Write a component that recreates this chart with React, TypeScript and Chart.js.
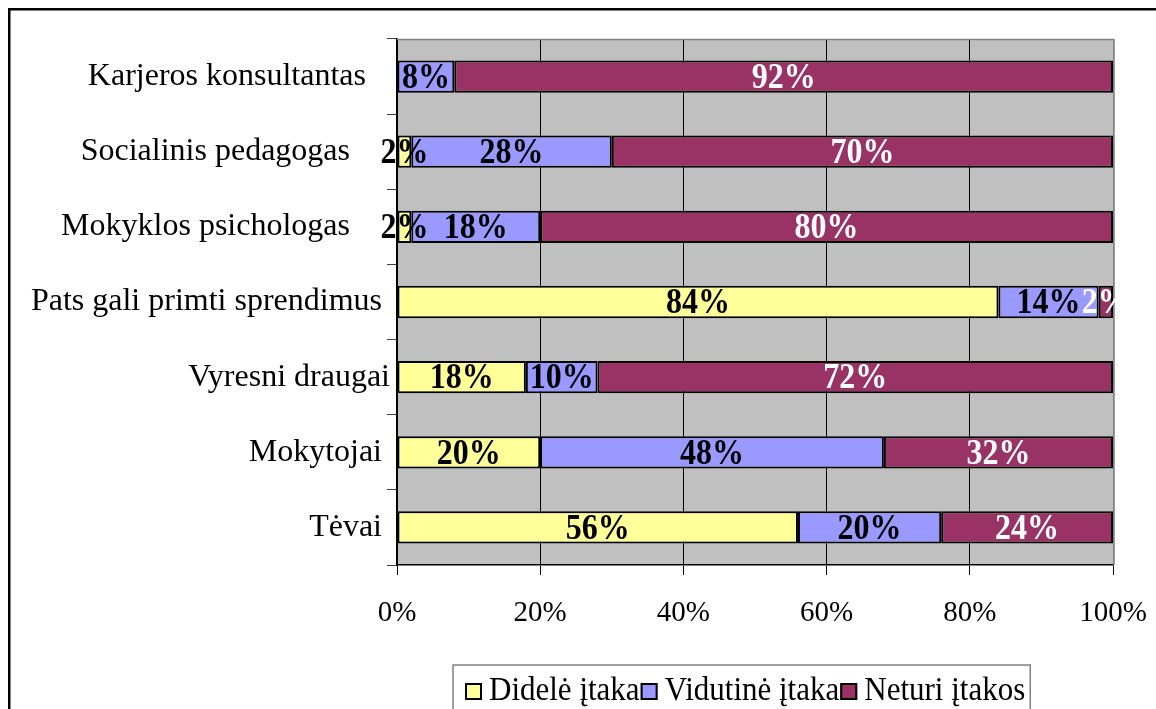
import React, { useEffect, useRef } from "react";
import { Chart, registerables } from "chart.js";

Chart.register(...registerables);

// Category labels (trailing spaces reproduce the original label alignment)
const categories = [
  "Karjeros konsultantas   ",
  "Socialinis pedagogas     ",
  "Mokyklos psichologas     ",
  "Pats gali primti sprendimus ",
  "Vyresni draugai",
  "Mokytojai ",
  "Tėvai ",
];
const seriesNames = ["Didelė įtaka", "Vidutinė įtaka", "Neturi įtakos"];
const didele = [0, 2, 2, 84, 18, 20, 56];
const vidutine = [8, 28, 18, 14, 10, 48, 20];
const neturi = [92, 70, 80, 2, 72, 32, 24];
const seriesColors = ["#FFFF99", "#9999FF", "#993366"];
const labelColors = ["#000000", "#000000", "#FFFFFF"];
const xTickStep = 20;

const SERIF = "'Liberation Serif', 'Times New Roman', Times, serif";

const framePlugin = {
  id: "frameAndBackground",
  beforeDraw(chart: any) {
    const { ctx, chartArea, width, height } = chart;
    ctx.save();
    ctx.fillStyle = "#FFFFFF";
    ctx.fillRect(0, 0, width, height);
    ctx.fillStyle = "#000000";
    ctx.fillRect(8, 8, width - 8, 2.5);
    ctx.fillRect(8, 8, 2.5, height - 8);
    ctx.fillStyle = "#C0C0C0";
    ctx.fillRect(chartArea.left, chartArea.top, chartArea.right - chartArea.left, chartArea.bottom - chartArea.top);
    ctx.restore();
  },
  beforeDatasetsDraw(chart: any) {
    const { ctx, chartArea } = chart;
    ctx.save();
    ctx.strokeStyle = "#808080";
    ctx.lineWidth = 1.5;
    ctx.beginPath();
    ctx.moveTo(chartArea.left, chartArea.top + 0.5);
    ctx.lineTo(chartArea.right + 1, chartArea.top + 0.5);
    ctx.moveTo(chartArea.right + 1, chartArea.top);
    ctx.lineTo(chartArea.right + 1, chartArea.bottom);
    ctx.stroke();
    ctx.restore();
  },
};

const dataLabelPlugin = {
  id: "dataLabels",
  afterDatasetsDraw(chart: any) {
    const { ctx } = chart;
    ctx.save();
    ctx.font = `bold 32px ${SERIF}`;
    ctx.textAlign = "center";
    ctx.textBaseline = "middle";
    chart.data.datasets.forEach((ds: any, di: number) => {
      const meta = chart.getDatasetMeta(di);
      meta.data.forEach((el: any, i: number) => {
        const v = ds.data[i];
        if (!v) return;
        const p = el.getProps(["x", "y", "base"], true);
        const cx = (p.x + p.base) / 2;
        const cy = p.y + 2;
        ctx.save();
        ctx.translate(cx, cy);
        ctx.scale(1, 1.12);
        ctx.fillStyle = labelColors[di];
        ctx.fillText(v + "%", 0, 0);
        ctx.restore();
      });
    });
    ctx.restore();
  },
};

const legendPlugin = {
  id: "boxLegend",
  afterDraw(chart: any) {
    const { ctx } = chart;
    ctx.save();
    ctx.font = `31px ${SERIF}`;
    ctx.textBaseline = "alphabetic";
    ctx.textAlign = "left";
    const boxLeft = 453;
    const boxTop = 665;
    let x = 465;
    const sq = 17;
    const sqTop = 683;
    chart.data.datasets.forEach((ds: any) => {
      ctx.fillStyle = ds.backgroundColor;
      ctx.fillRect(x, sqTop, sq, sq);
      ctx.strokeStyle = "#000000";
      ctx.lineWidth = 2;
      ctx.strokeRect(x + 1, sqTop + 1, sq - 2, sq - 2);
      x += sq + 7;
      ctx.fillStyle = "#000000";
      ctx.save();
      ctx.translate(x, 700);
      ctx.scale(1, 1.12);
      ctx.fillText(ds.label, 0, 0);
      ctx.restore();
      x += ctx.measureText(ds.label).width + 1;
    });
    ctx.strokeStyle = "#808080";
    ctx.lineWidth = 1.5;
    ctx.strokeRect(boxLeft, boxTop, x + 4 - boxLeft, 80);
    ctx.restore();
  },
};

export default function App() {
  const canvasRef = useRef<HTMLCanvasElement | null>(null);

  useEffect(() => {
    if (!canvasRef.current) return;
    const chart = new Chart(canvasRef.current, {
      type: "bar",
      data: {
        labels: categories,
        datasets: [didele, vidutine, neturi].map((values, i) => ({
          label: seriesNames[i],
          data: values,
          backgroundColor: seriesColors[i],
          borderColor: "#000000",
          borderWidth: 2,
          borderSkipped: false,
          barPercentage: 0.43,
          categoryPercentage: 1,
        })),
      },
      options: {
        indexAxis: "y",
        responsive: false,
        animation: false,
        layout: { padding: { left: 0, top: 39, right: 43, bottom: 0 } },
        plugins: {
          legend: { display: false },
          tooltip: { enabled: false },
        },
        scales: {
          x: {
            stacked: true,
            min: 0,
            max: 100,
            ticks: {
              stepSize: xTickStep,
              callback: (v: any) => v + "%",
              color: "#000000",
              font: { family: SERIF, size: 29 },
              padding: 21,
              maxRotation: 0,
            },
            grid: {
              color: (c: any) => (c.index === 5 ? "#808080" : "#000000"),
              tickColor: "#000000",
              lineWidth: 1,
              drawTicks: true,
              tickLength: 10,
            },
            border: { display: true, color: "#000000", width: 1.5 },
            afterFit: (scale: any) => {
              scale.height = 144;
              scale.paddingLeft = 0;
              scale.paddingRight = 0;
            },
          },
          y: {
            stacked: true,
            ticks: {
              color: "#000000",
              font: { family: SERIF, size: 32 },
              padding: -3,
            },
            grid: {
              offset: true,
              drawOnChartArea: false,
              drawTicks: true,
              tickLength: 10,
              color: "#404040",
              tickColor: "#404040",
            },
            border: { display: true, color: "#000000", width: 1.5 },
            afterFit: (scale: any) => {
              scale.width = 397;
              scale.paddingTop = 0;
              scale.paddingBottom = 0;
            },
          },
        },
      },
      plugins: [framePlugin, dataLabelPlugin, legendPlugin],
    });
    return () => chart.destroy();
  }, []);

  return (
    <div style={{ position: "fixed", left: 0, top: 0, width: 1156, height: 709, overflow: "hidden", background: "#fff" }}>
      <canvas ref={canvasRef} width={1156} height={709} style={{ display: "block" }} />
    </div>
  );
}
